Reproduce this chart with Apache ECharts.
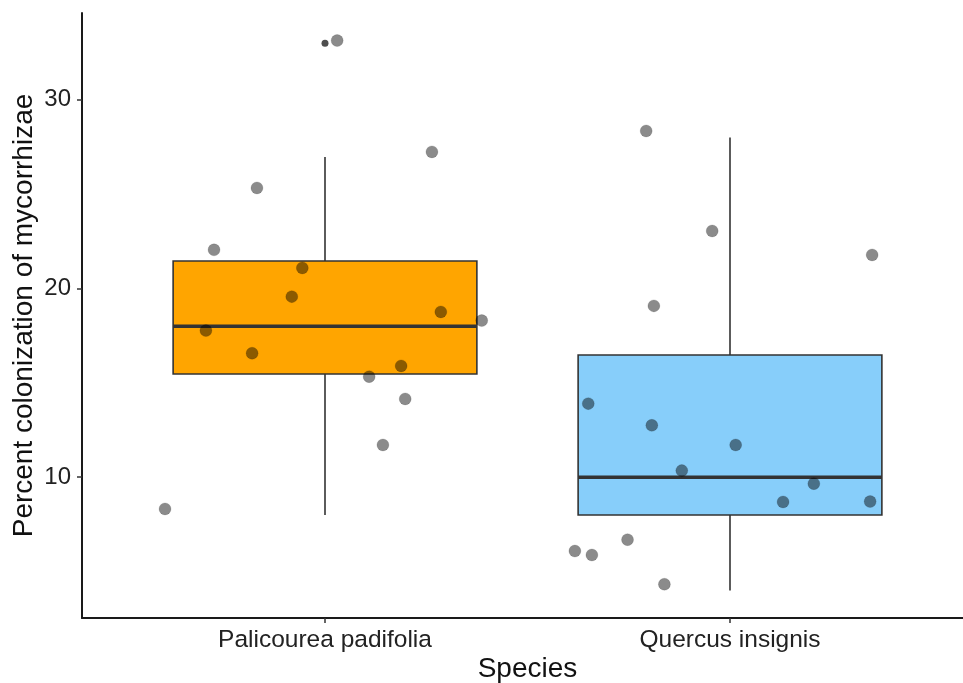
<!DOCTYPE html>
<html>
<head>
<meta charset="utf-8">
<script src="https://cdn.jsdelivr.net/npm/echarts@6/dist/echarts.min.js"></script>
<style>html,body{margin:0;padding:0;background:#fff;}#c{width:963px;height:683px;}</style>
</head>
<body>
<div id="c"></div>
<script>
// ---- data ----
const categories = ['Palicourea padifolia', 'Quercus insignis'];
const categoryPositions = [1, 2];
// box stats: [position, lowerWhisker, Q1, median, Q3, upperWhisker]
const boxStats = [
  [1, 8.0, 15.47, 18.0, 21.46, 26.97],
  [2, 4.0, 8.0, 10.0, 16.48, 28.0]
];
const outliers = [[1, 33.0]];
// jittered observations [x, value]
const pointsPalicourea = [
  [0.605, 8.32], [0.726, 22.05], [0.706, 17.77], [0.832, 25.33], [0.820, 16.57],
  [0.918, 19.57], [0.944, 21.09], [1.030, 33.14], [1.109, 15.33], [1.143, 11.71],
  [1.188, 15.90], [1.198, 14.15], [1.264, 27.24], [1.286, 18.76], [1.387, 18.30]
];
const pointsQuercus = [
  [1.617, 6.09], [1.659, 5.88], [1.650, 13.90], [1.747, 6.69], [1.793, 28.35],
  [1.812, 19.08], [1.807, 12.75], [1.838, 4.33], [1.881, 10.35], [1.956, 23.05],
  [2.014, 11.71], [2.131, 8.69], [2.207, 9.66], [2.351, 21.78], [2.346, 8.71]
];
const yTicks = [10, 20, 30];

// ---- style ----
const boxColors = ['#FFA500', '#87CEFA'];
const boxHalfWidth = 0.375;
const lineColor = '#333333';

const chart = echarts.init(document.getElementById('c'));
const font = 'Liberation Sans, Arial, sans-serif';

chart.setOption({
  backgroundColor: '#ffffff',
  animation: false,
  grid: { left: 82, right: -10, top: 13, bottom: 65, outerBoundsMode: 'none', containLabel: false },
  xAxis: {
    type: 'value', min: 0.4, max: 2.6,
    name: 'Species', nameLocation: 'middle', nameGap: 37, nameMoveOverlap: false,
    nameTextStyle: { fontSize: 28, color: '#111', fontFamily: font },
    splitLine: { show: false },
    axisLine: { show: true, onZero: false, lineStyle: { color: '#1a1a1a', width: 2 } },
    axisTick: { show: true, customValues: categoryPositions, length: 5, lineStyle: { color: '#333', width: 1.5 } },
    axisLabel: {
      customValues: categoryPositions, margin: 10, fontSize: 24.5, color: '#222', fontFamily: font,
      formatter: v => categories[Math.round(v) - 1] || ''
    }
  },
  yAxis: {
    type: 'value', min: 2.54, max: 34.6,
    name: 'Percent colonization of mycorrhizae', nameLocation: 'middle', nameGap: 44, nameRotate: 90,
    nameMoveOverlap: false,
    nameTextStyle: { fontSize: 28, color: '#111', fontFamily: font },
    splitLine: { show: false },
    axisLine: { show: true, onZero: false, lineStyle: { color: '#1a1a1a', width: 2 } },
    axisTick: { show: true, customValues: yTicks, length: 5, lineStyle: { color: '#333', width: 1.5 } },
    axisLabel: { customValues: yTicks, margin: 11, fontSize: 24, color: '#222', fontFamily: font }
  },
  series: [
    {
      type: 'custom',
      data: boxStats,
      z: 2,
      renderItem: function (params, api) {
        const x = api.value(0), lo = api.value(1), q1 = api.value(2), med = api.value(3), q3 = api.value(4), hi = api.value(5);
        const tl = api.coord([x - boxHalfWidth, q3]);
        const br = api.coord([x + boxHalfWidth, q1]);
        const mL = api.coord([x - boxHalfWidth, med]);
        const mR = api.coord([x + boxHalfWidth, med]);
        const wTop = api.coord([x, hi]);
        const wQ3 = api.coord([x, q3]);
        const wQ1 = api.coord([x, q1]);
        const wBot = api.coord([x, lo]);
        const ls = { stroke: lineColor, lineWidth: 1.6 };
        return {
          type: 'group',
          children: [
            { type: 'line', shape: { x1: wTop[0], y1: wTop[1], x2: wQ3[0], y2: wQ3[1] }, style: ls },
            { type: 'line', shape: { x1: wQ1[0], y1: wQ1[1], x2: wBot[0], y2: wBot[1] }, style: ls },
            { type: 'rect', shape: { x: tl[0], y: tl[1], width: br[0] - tl[0], height: br[1] - tl[1] },
              style: { fill: boxColors[params.dataIndex], stroke: lineColor, lineWidth: 1.6 } },
            { type: 'line', shape: { x1: mL[0], y1: mL[1], x2: mR[0], y2: mR[1] }, style: { stroke: lineColor, lineWidth: 3.5 } }
          ]
        };
      }
    },
    {
      type: 'scatter', data: outliers, z: 3, symbolSize: 7,
      itemStyle: { color: '#222' }
    },
    {
      type: 'scatter', data: pointsPalicourea, z: 4, symbolSize: 12,
      itemStyle: { color: 'rgba(0,0,0,0.57)', borderColor: 'rgba(0,0,0,0.2)', borderWidth: 0.8 }
    },
    {
      type: 'scatter', data: pointsQuercus, z: 4, symbolSize: 12,
      itemStyle: { color: 'rgba(0,0,0,0.57)', borderColor: 'rgba(0,0,0,0.2)', borderWidth: 0.8 }
    }
  ]
});
</script>
</body>
</html>
